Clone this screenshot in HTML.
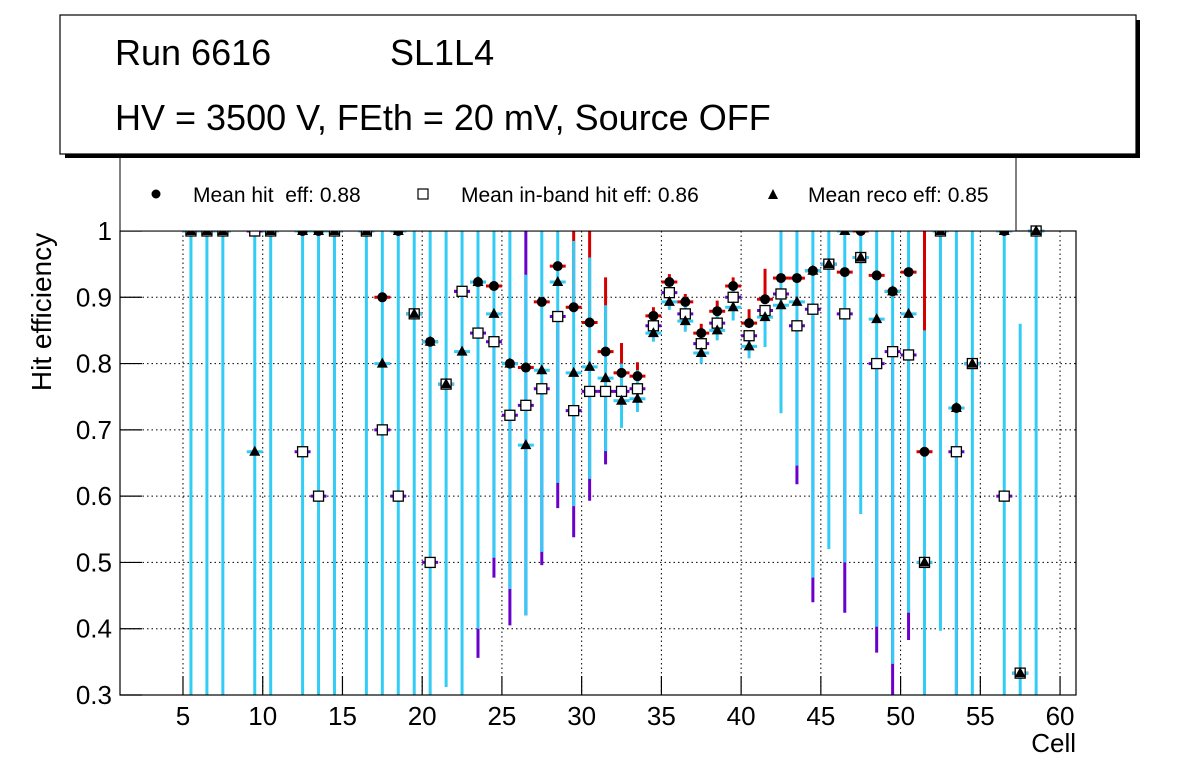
<!DOCTYPE html>
<html><head><meta charset="utf-8">
<style>
html,body{margin:0;padding:0;background:#fff;}
svg{display:block;font-family:"Liberation Sans",Arial,sans-serif;}
</style></head>
<body>
<svg id="chart" width="1196" height="772" viewBox="0 0 1196 772" xmlns="http://www.w3.org/2000/svg">
  <rect x="0" y="0" width="1196" height="772" fill="#fff"/>
  <g id="grid"></g>
  <g id="bars"></g>
  <g id="marks"></g>
  <rect x="120" y="231" width="956" height="464" fill="none" stroke="#000" stroke-width="1.2"/>
  <g id="axes"></g>
  <text x="1076" y="752" text-anchor="end" font-size="26">Cell</text>
  <text transform="translate(51,312) rotate(-90)" text-anchor="middle" font-size="28">Hit efficiency</text>
  <g>
    <rect x="120" y="153" width="896" height="78" fill="#fff" stroke="#000" stroke-width="1"/>
    <circle cx="156" cy="194" r="4.5" fill="#000"/>
    <text x="193" y="202" font-size="21" xml:space="preserve">Mean hit  eff: 0.88</text>
    <rect x="418" y="189" width="10" height="10" fill="#fff" stroke="#000" stroke-width="1.2"/>
    <text x="461" y="202" font-size="21">Mean in-band hit eff: 0.86</text>
    <polygon points="773,189 768,199 778,199" fill="#000"/>
    <text x="808" y="202" font-size="21">Mean reco eff: 0.85</text>
  </g>
  <g>
    <rect x="65" y="20" width="1075" height="138" fill="#000"/>
    <rect x="60" y="15" width="1076" height="139" fill="#fff" stroke="#000" stroke-width="1.2"/>
    <text x="115" y="65" font-size="36">Run 6616</text>
    <text x="390" y="65" font-size="36">SL1L4</text>
    <text x="115" y="130" font-size="36">HV = 3500 V, FEth = 20 mV, Source OFF</text>
  </g>
</svg>
<script>
const cells  = [5,6,7,9,10,12,13,14,16,17,18,19,20,21,22,23,24,25,26,27,28,29,30,31,32,33,34,35,36,37,38,39,40,41,42,43,44,45,46,47,48,49,50,51,52,53,54,56,57,58];
const hitEff = [1,1,1,1,1,1,1,1,1,0.9,1,0.875,0.833,0.769,0.909,0.923,0.917,0.8,0.794,0.893,0.947,0.885,0.862,0.818,0.786,0.781,0.872,0.923,0.893,0.846,0.879,0.917,0.861,0.897,0.929,0.929,0.94,0.95,0.938,1,0.933,0.909,0.938,0.667,1,0.733,0.8,1,0.333,1];
const inbandEff = [1,1,1,1,1,0.667,0.6,1,1,0.7,0.6,0.875,0.5,0.769,0.909,0.846,0.833,0.722,0.737,0.762,0.871,0.729,0.758,0.758,0.758,0.762,0.857,0.907,0.875,0.83,0.861,0.9,0.842,0.88,0.905,0.857,0.882,0.95,0.875,0.96,0.8,0.818,0.813,0.5,1,0.667,0.8,0.6,0.333,1];
const recoEff = [1,1,1,0.667,1,1,1,1,1,0.8,1,0.875,0.833,0.769,0.818,0.923,0.875,0.8,0.677,0.79,0.923,0.786,0.795,0.778,0.744,0.747,0.846,0.893,0.864,0.816,0.85,0.885,0.826,0.87,0.888,0.893,0.94,0.95,1,0.96,0.867,0.909,0.875,0.5,1,0.733,0.8,1,0.333,1];
const recoLo = [0.2,0.2,0.2,0.2,0.2,0.2,0.2,0.2,0.2,0.2,0.2,0.2,0.2,0.312,0.2,0.40,0.507,0.46,0.42,0.516,0.62,0.585,0.626,0.668,0.703,0.727,0.833,0.881,0.848,0.80,0.835,0.865,0.808,0.825,0.725,0.646,0.477,0.52,0.5,0.573,0.403,0.347,0.424,0.2,0.397,0.2,0.2,0.2,0.2,0.2];
const recoHi = [1,1,1,1,1,1,1,1,1,1,1,1,1,1,1,1,1,1,0.934,1,1,0.985,0.96,0.888,0.80,0.79,0.865,0.92,0.89,0.84,0.875,0.91,0.85,0.88,1,1,1,1,1,1,1,1,1,0.85,1,1,1,1,0.86,1];
const hitHi = [null,null,null,null,null,null,null,null,null,null,null,null,null,null,null,null,null,null,null,null,null,1,1,0.93,0.831,0.802,0.885,0.935,0.905,0.86,0.895,0.93,0.882,0.943,null,null,null,null,null,null,null,null,null,1,null,null,null,null,null,null];
const inbandLo = [null,null,null,null,null,null,null,null,null,null,null,null,null,null,null,0.356,0.477,0.405,0.42,0.496,0.582,0.538,0.593,0.648,null,null,null,null,null,null,null,null,null,null,null,0.618,0.44,null,0.424,null,0.364,0.2,0.383,null,null,0.2,null,null,null,null];
const inbandHi = [null,null,null,null,null,null,null,null,null,null,null,null,null,null,null,null,null,null,1,null,null,null,null,null,null,null,null,null,null,null,null,null,null,null,null,null,null,null,null,null,null,null,null,null,null,null,null,null,null,null];
const xTicks = [5,10,15,20,25,30,35,40,45,50,55,60];
const yTicks = [0.3,0.4,0.5,0.6,0.7,0.8,0.9,1];

const X0=120,X1=1076,Y0=231,Y1=695,XMIN=1.05,XMAX=61.0,YMIN=0.3,YMAX=1.0;
const sx=v=>X0+(v-XMIN)/(XMAX-XMIN)*(X1-X0);
const sy=v=>Y1-(v-YMIN)/(YMAX-YMIN)*(Y1-Y0);
const cy=v=>Math.max(Y0,Math.min(Y1,sy(v)));
const NS='http://www.w3.org/2000/svg';
function mk(tag,attrs,parent){const e=document.createElementNS(NS,tag);for(const k in attrs)e.setAttribute(k,attrs[k]);parent.appendChild(e);return e;}
const grid=document.getElementById('grid'),axes=document.getElementById('axes'),bars=document.getElementById('bars'),marks=document.getElementById('marks');

xTicks.forEach(t=>{
  const x=sx(t);
  const g=mk('line',{x1:x,x2:x,y1:Y0,y2:Y1,stroke:'#000','stroke-width':1,'stroke-dasharray':'1.5,3'},grid);
  
  
  const tk=mk('line',{x1:x,x2:x,y1:Y1,y2:Y1-19,stroke:'#000','stroke-width':1.2},axes);
  
  
  const lb=mk('text',{x:x,y:725,'text-anchor':'middle','font-size':26},axes);
  lb.textContent=t;
  
  
});
yTicks.forEach(t=>{
  const y=sy(t);
  const g=mk('line',{x1:X0,x2:X1,y1:y,y2:y,stroke:'#000','stroke-width':1,'stroke-dasharray':'1.5,3'},grid);
  
  
  const tk=mk('line',{x1:X0,x2:X0+22,y1:y,y2:y,stroke:'#000','stroke-width':1.2},axes);
  
  
  const lb=mk('text',{x:112,y:y+9,'text-anchor':'end','font-size':26},axes);
  lb.textContent=(t===1?'1':t.toFixed(1));
  
  
});

function vbar(x,lo,hi,col,name){
  const a=cy(lo),b=cy(hi);
  if(Math.abs(a-b)<0.5)return;
  const l=mk('line',{x1:x,x2:x,y1:a,y2:b,stroke:col,'stroke-width':3},bars);
  
  
}
function hbar(xc,v,col,name){
  if(v<YMIN||v>YMAX)return;
  const y=sy(v);
  const l=mk('line',{x1:sx(xc-0.5),x2:sx(xc+0.5),y1:y,y2:y,stroke:col,'stroke-width':3},bars);
  
  
}
const RED='#d40000',PUR='#6a00cc',CYA='#33ccf5';
cells.forEach((c,i)=>{
  const xc=c+0.5,x=sx(xc);
  const h=hitEff[i],ib=inbandEff[i],r=recoEff[i];
  vbar(x,h,hitHi[i]==null?h:hitHi[i],RED,'hit-error-bar');
  vbar(x,inbandLo[i]==null?ib:inbandLo[i],inbandHi[i]==null?ib:inbandHi[i],PUR,'inband-error-bar');
  hbar(xc,h,RED,'hit-x-error');
  hbar(xc,ib,PUR,'inband-x-error');
  vbar(x,recoLo[i],recoHi[i],CYA,'reco-error-bar');
  hbar(xc,r,CYA,'reco-x-error');
});
cells.forEach((c,i)=>{
  const x=sx(c+0.5);
  const h=hitEff[i],ib=inbandEff[i],r=recoEff[i];
  if(h>=YMIN&&h<=YMAX){
    const m=mk('circle',{cx:x,cy:sy(h),r:5,fill:'#000'},marks);
    
    
  }
  if(ib>=YMIN&&ib<=YMAX){
    const y=sy(ib);
    const m=mk('rect',{x:x-5,y:y-5,width:10,height:10,fill:'#fff',stroke:'#000','stroke-width':1.3},marks);
    
    
  }
  if(r>=YMIN&&r<=YMAX){
    const y=sy(r);
    const m=mk('polygon',{points:`${x},${y-6} ${x-5.5},${y+4} ${x+5.5},${y+4}`,fill:'#000'},marks);
    
    
  }
});
</script>
</body></html>
